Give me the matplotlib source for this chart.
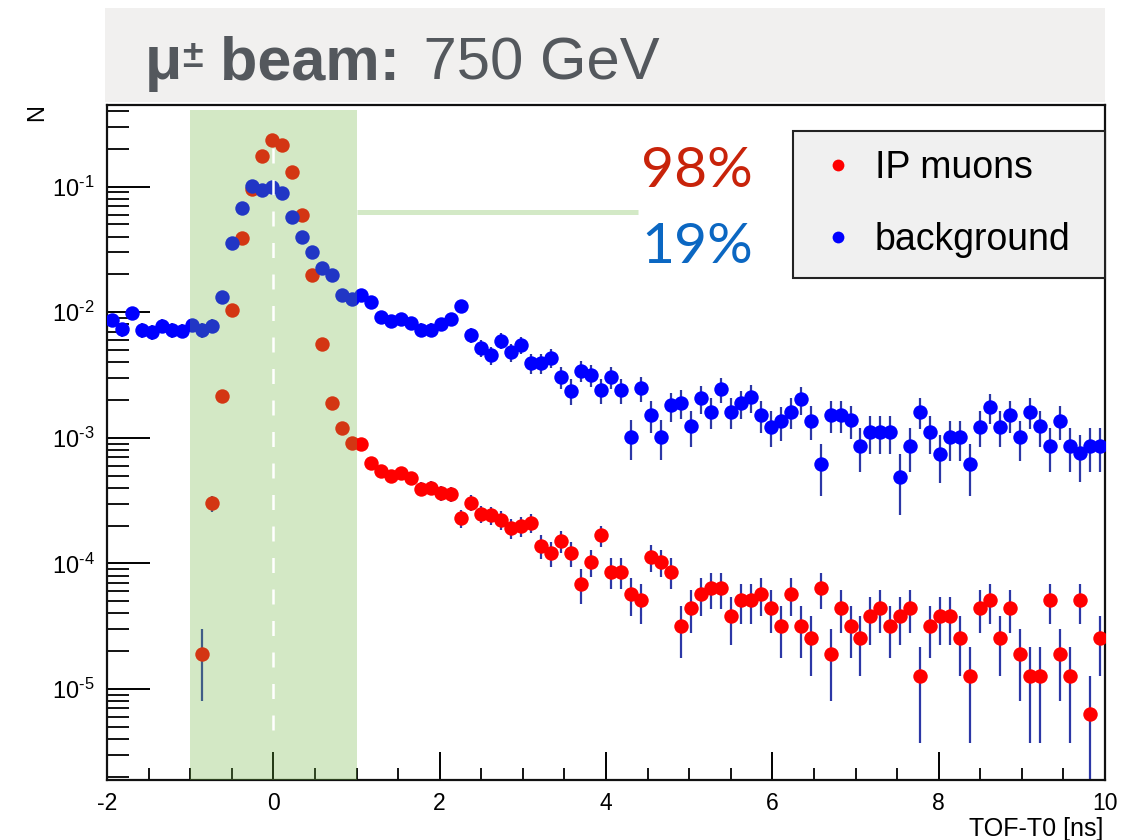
import numpy as np
import matplotlib
matplotlib.use("Agg")
import matplotlib.pyplot as plt
from matplotlib.lines import Line2D
from matplotlib.patches import Rectangle
from matplotlib.ticker import FixedLocator, LogLocator, MultipleLocator, FuncFormatter, NullFormatter

plt.rcParams['font.family'] = ['Liberation Sans', 'DejaVu Sans']
plt.rcParams['mathtext.fontset'] = 'custom'
plt.rcParams['mathtext.rm'] = 'Liberation Sans'
plt.rcParams['mathtext.it'] = 'Liberation Sans:italic'
plt.rcParams['mathtext.bf'] = 'Liberation Sans:bold'
plt.rcParams['axes.unicode_minus'] = False

# ---- histogram binning: 100 bins of 0.12 ns between -2 and 10 ns ----
x_range = (-2.0, 10.0)
n_bins = 100
edges = np.linspace(x_range[0], x_range[1], n_bins + 1)
centers = 0.5 * (edges[:-1] + edges[1:])

# ---- normalised TOF-T0 distributions (entries per bin, normalised) ----
ip_muons = [
    np.nan, np.nan, np.nan, np.nan, np.nan, np.nan, np.nan, np.nan, np.nan, 1.905e-5,
    3.01e-4, 2.16e-3, 1.043e-2, 3.88e-2, 9.5e-2, 0.1755, 0.2353, 0.2128, 0.1309, 5.95e-2,
    1.98e-2, 5.59e-3, 1.89e-3, 1.19e-3, 9.06e-4, 8.91e-4, 6.25e-4, 5.45e-4, 4.97e-4, 5.22e-4,
    4.77e-4, 3.92e-4, 3.99e-4, 3.64e-4, 3.57e-4, 2.30e-4, 3.05e-4, 2.48e-4, 2.41e-4, 2.22e-4,
    1.92e-4, 1.99e-4, 2.11e-4, 1.38e-4, 1.21e-4, 1.51e-4, 1.21e-4, 6.87e-5, 1.03e-4, 1.67e-4,
    8.61e-5, 8.61e-5, 5.72e-5, 5.08e-5, 1.13e-4, 1.03e-4, 8.61e-5, 3.18e-5, 4.45e-5, 5.72e-5,
    6.35e-5, 6.35e-5, 3.81e-5, 5.08e-5, 5.08e-5, 5.72e-5, 4.45e-5, 3.18e-5, 5.72e-5, 3.18e-5,
    2.54e-5, 6.35e-5, 1.905e-5, 4.45e-5, 3.18e-5, 2.54e-5, 3.81e-5, 4.45e-5, 3.18e-5, 3.81e-5,
    4.45e-5, 1.27e-5, 3.18e-5, 3.81e-5, 3.81e-5, 2.54e-5, 1.27e-5, 4.45e-5, 5.08e-5, 2.54e-5,
    4.45e-5, 1.905e-5, 1.27e-5, 1.27e-5, 5.08e-5, 1.905e-5, 1.27e-5, 5.08e-5, 6.35e-6, 2.54e-5,
]
background = [
    8.7e-3, 7.32e-3, 9.93e-3, 7.23e-3, 6.93e-3, 7.82e-3, 7.23e-3, 7.14e-3, 7.92e-3, 7.23e-3,
    7.78e-3, 1.317e-2, 3.53e-2, 6.77e-2, 0.1013, 9.41e-2, 9.95e-2, 8.91e-2, 5.74e-2, 4.01e-2,
    3.04e-2, 2.24e-2, 1.98e-2, 1.373e-2, 1.276e-2, 1.373e-2, 1.214e-2, 9.22e-3, 8.52e-3, 8.76e-3,
    8.22e-3, 7.27e-3, 7.27e-3, 8.07e-3, 8.76e-3, 1.122e-2, 6.60e-3, 5.24e-3, 4.57e-3, 5.94e-3,
    4.83e-3, 5.49e-3, 3.93e-3, 3.92e-3, 4.33e-3, 3.07e-3, 2.38e-3, 3.43e-3, 3.17e-3, 2.41e-3,
    3.07e-3, 2.39e-3, 1.02e-3, 2.50e-3, 1.52e-3, 1.02e-3, 1.81e-3, 1.90e-3, 1.24e-3, 2.07e-3,
    1.62e-3, 2.44e-3, 1.62e-3, 1.89e-3, 2.10e-3, 1.52e-3, 1.23e-3, 1.35e-3, 1.62e-3, 2.03e-3,
    1.37e-3, 6.20e-4, 1.52e-3, 1.52e-3, 1.39e-3, 8.62e-4, 1.12e-3, 1.12e-3, 1.12e-3, 4.91e-4,
    8.62e-4, 1.62e-3, 1.12e-3, 7.44e-4, 1.01e-3, 1.01e-3, 6.20e-4, 1.23e-3, 1.77e-3, 1.23e-3,
    1.52e-3, 1.01e-3, 1.62e-3, 1.24e-3, 8.62e-4, 1.37e-3, 8.62e-4, 7.54e-4, 8.62e-4, 8.62e-4,
]
# weight of a single entry in each sample (for Poisson error bars)
ip_entry_weight = 6.35e-6
bkg_entry_weight = 1.25e-4

series_labels = ["IP muons", "background"]
efficiencies = ["98%", "19%"]
title_bold = ["\u03bc", "\u00b1", " beam:"]
title_rest = " 750 GeV"
x_label = "TOF-T0 [ns]"
y_label = "N"

W, H = 1140, 840
fig = plt.figure(figsize=(W / 100, H / 100), dpi=100)
ax = fig.add_axes([107 / W, 1 - 780 / H, (1105 - 107) / W, (780 - 105) / H])


def poisson_errors(vals, unit):
    v = np.asarray(vals, dtype=float)
    err = np.sqrt(v * unit)
    lo = np.minimum(err, v * 0.9999)
    return lo, err


ip = np.asarray(ip_muons, dtype=float)
bg = np.asarray(background, dtype=float)
ok = ~np.isnan(ip)

err_color = "#2c37a6"
lo, hi = poisson_errors(ip[ok], ip_entry_weight)
ax.errorbar(centers[ok], ip[ok], yerr=[lo, hi], fmt="none", ecolor=err_color,
            elinewidth=1.6, capsize=0, zorder=2)
lo, hi = poisson_errors(bg, bkg_entry_weight)
ax.errorbar(centers, bg, yerr=[lo, hi], fmt="none", ecolor=err_color,
            elinewidth=1.6, capsize=0, zorder=2)

ax.plot(centers[ok], ip[ok], "o", color="#ff0000", ms=10.4, mew=0, zorder=3)
ax.plot(centers, bg, "o", color="#0000ff", ms=10.4, mew=0, zorder=4)

ax.set_yscale("log")
ax.set_xlim(*x_range)
ax.set_ylim(1.886e-6, 0.447)

# timing window [-1, 1] ns, overlaid on the points
ax.axvspan(-1, 1, ymin=0, ymax=0.9926, color="#70b641", alpha=0.3, lw=0, zorder=5)
ax.plot([0, 0], [0.203, 4.15e-6], color="white", lw=1.8, ls=(0, (6, 6.6)), zorder=6)
ax.plot([1.0, 4.38], [0.0633, 0.0633], color="#d3e9c6", lw=3.6,
        solid_capstyle="butt", zorder=6)

# axes styling
ax.yaxis.set_major_locator(FixedLocator([1e-5, 1e-4, 1e-3, 1e-2, 1e-1]))
ax.yaxis.set_minor_locator(LogLocator(base=10, subs=np.arange(2, 10), numticks=100))
ax.yaxis.set_major_formatter(FuncFormatter(
    lambda v, p: "$\\mathregular{10^{\u2010%d}}$" % abs(int(round(np.log10(v))))))
ax.yaxis.set_minor_formatter(NullFormatter())
ax.xaxis.set_major_locator(MultipleLocator(2))
ax.xaxis.set_minor_locator(MultipleLocator(0.5))

ax.tick_params(axis="y", which="major", direction="in", length=31, width=1.4,
               right=False, labelsize=17, pad=9)
ax.tick_params(axis="y", which="minor", direction="in", length=16, width=1.3, right=False)
ax.tick_params(axis="x", which="major", direction="in", length=20, width=1.4,
               top=False, labelsize=16.5, pad=9)
ax.tick_params(axis="x", which="minor", direction="in", length=9, width=1.3, top=False)
for s in ax.spines.values():
    s.set_linewidth(1.6)
    s.set_color("#111111")

fig.text(37 / W, 1 - 113 / H, y_label, rotation=90, fontsize=17, ha="center", va="center")
fig.text(1103 / W, 1 - 836 / H, x_label, fontsize=18, ha="right", va="baseline")

# legend
handles = [
    Line2D([], [], ls="none", marker="o", color="#ff0000", ms=8.5, mew=0),
    Line2D([], [], ls="none", marker="o", color="#0000ff", ms=8.5, mew=0),
]
leg = ax.legend(handles, series_labels, loc="upper left",
                bbox_to_anchor=((793 - 107) / 998, (780 - 274) / 675, (1105 - 793) / 998, (274 - 131) / 675),
                mode="expand", borderaxespad=0, fontsize=27, frameon=True, fancybox=False,
                framealpha=1, facecolor="#f0f0f0", edgecolor="#222222",
                borderpad=0.52, labelspacing=0.95, handlelength=1.36, handletextpad=0.3)
leg.get_frame().set_linewidth(1.5)
leg.set_zorder(10)

# selection efficiencies
fig.text(753 / W, 1 - 187 / H, efficiencies[0], fontsize=41, family=["Lato", "DejaVu Sans"],
         color="#c8230a", ha="right", va="baseline")
fig.text(753 / W, 1 - 263 / H, efficiencies[1], fontsize=41, family=["Lato", "DejaVu Sans"],
         color="#0b67c2", ha="right", va="baseline")

# title banner
fig.patches.append(Rectangle((105 / W, 1 - 101.5 / H), 1000 / W, 93.5 / H,
                             transform=fig.transFigure, facecolor="#f1f0ef",
                             edgecolor="none", zorder=0))
renderer = fig.canvas.get_renderer()
x_px = 145.0
baseline = 1 - 79 / H
pieces = [(title_bold[0], 44, "bold", 0.0, 0.0), (title_bold[1], 27, "bold", 12.0, 0.0),
          (title_bold[2], 44, "bold", 0.0, 0.0), (title_rest, 43, "normal", 0.0, 7.0)]
for text, size, weight, rise, gap in pieces:
    x_px += gap
    t = fig.text(x_px / W, baseline + rise / H, text, fontsize=size, fontweight=weight,
                 color="#54585d", ha="left", va="baseline")
    x_px = t.get_window_extent(renderer).x1

fig.savefig("out.png", dpi=100)
